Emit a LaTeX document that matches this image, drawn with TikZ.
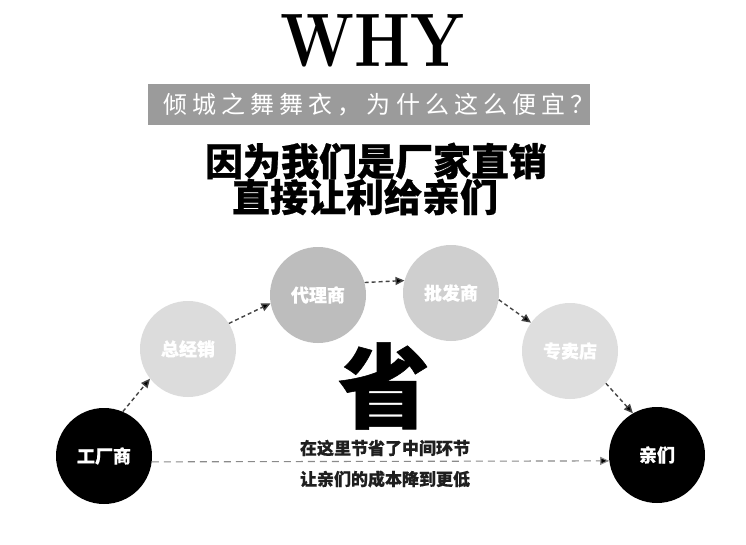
\documentclass[tikz,border=0pt]{standalone}
\usepackage{fontspec}
\newfontfamily\cjk{Noto Sans CJK SC}
\usetikzlibrary{arrows.meta}
\definecolor{bargray}{HTML}{9B9B9B}
\definecolor{cA}{HTML}{DCDCDC}
\definecolor{cB}{HTML}{BDBDBD}
\definecolor{cC}{HTML}{CFCFCF}
\definecolor{cD}{HTML}{DEDEDE}
\definecolor{arrgray}{HTML}{444444}
\definecolor{linegray}{HTML}{8A8A8A}
\begin{document}
\begin{tikzpicture}[x=1pt,y=-1pt,
  circ/.style={circle, minimum size=96pt, inner sep=0pt, text=white,
    font=\cjk\bfseries\fontsize{18}{18}\selectfont\addfontfeature{FakeBold=0.6}},
  flow/.style={draw=arrgray, line width=1.4pt, dash pattern=on 4pt off 3pt,
    -{Triangle[length=9pt,width=8pt,fill=black]}},
  hflow/.style={draw=linegray, line width=1.1pt, dash pattern=on 7pt off 5pt,
    -{Triangle[length=9pt,width=8pt,fill=black]}},
  headline/.style={font=\cjk\bfseries\fontsize{38}{38}\selectfont\addfontfeature{FakeBold=0.7}, text=black},
  subline/.style={font=\cjk\bfseries\fontsize{17}{17}\selectfont\addfontfeature{FakeBold=0.5}, text=black!88},
]
\useasboundingbox (0,0) rectangle (746,545);
\fill[white] (0,0) rectangle (746,545);

\node[inner sep=0pt] (why) at (373,41) {\resizebox{184pt}{52pt}{\bfseries WHY}};

\node[fill=bargray, minimum width=442pt, minimum height=41pt, inner sep=0pt] (bar) at (369,104.5) {};
\node[text=white, inner sep=0pt, font=\cjk\fontsize{24}{24}\selectfont\addfontfeature{LetterSpace=21}] (q) at (379,105) {倾城之舞舞衣，为什么这么便宜？};

\node[headline] (h1) at (376,161) {因为我们是厂家直销};
\node[headline] (h2) at (365,197) {直接让利给亲们};

\node[circ, fill=black] (fac) at (104,456) {工厂商};
\node[circ, fill=cA] (zjx) at (188,349) {总经销};
\node[circ, fill=cB] (dls) at (318,295) {代理商};
\node[circ, fill=cC] (pfs) at (451,293) {批发商};
\node[circ, fill=cD] (zmd) at (570,351) {专卖店};
\node[circ, fill=black] (qin) at (657,455) {亲们};

\draw[flow] (fac.67) -- (zjx.218);
\draw[flow] (zjx.32) -- (dls.190);
\draw[flow] (dls.15) -- (pfs.165);
\draw[flow] (pfs.-8) -- (zmd.144);
\draw[flow] (zmd.-42) -- (qin.120);
\draw[hflow] (fac.-7) -- (qin.187);

\node[font=\cjk\bfseries\fontsize{92}{92}\selectfont\addfontfeature{FakeBold=0.6}] (sheng) at (384,386) {省};
\node[subline] (s1) at (385,448) {在这里节省了中间环节};
\node[subline] (s2) at (385,479) {让亲们的成本降到更低};
\end{tikzpicture}
\end{document}
